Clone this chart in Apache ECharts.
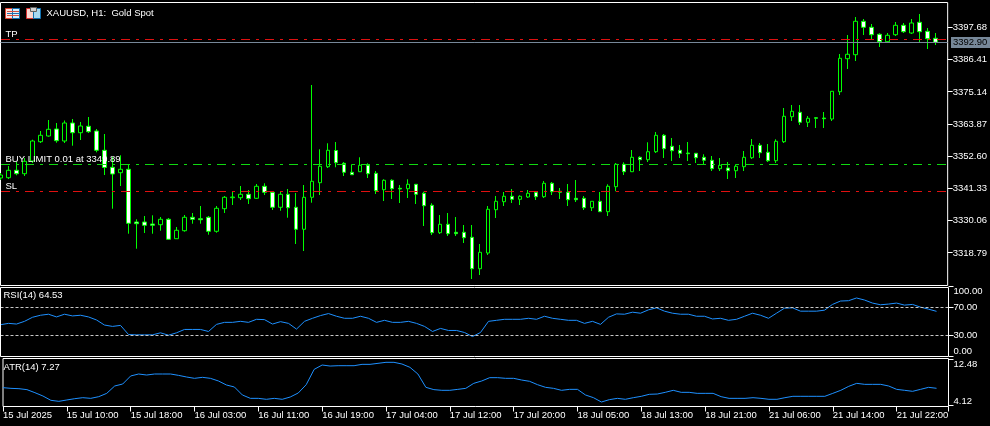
<!DOCTYPE html>
<html><head><meta charset="utf-8">
<style>html,body{margin:0;padding:0;background:#000;overflow:hidden}#c{width:990px;height:426px}</style>
<script src="https://cdn.jsdelivr.net/npm/echarts@6/dist/echarts.min.js"></script>
</head><body><div id="c"></div>
<script>
const opens=[3345.0,3345.1,3347.7,3346.5,3350.95,3357.7,3359.7,3362.15,3357.95,3364.25,
3360.85,3363.1,3361.45,3354.7,3348.75,3346.85,3348.05,3329.6,3329.6,3328.9,
3328.65,3330.55,3323.75,3326.55,3331.25,3330.75,3331.25,3326.35,3334.25,3338.1,
3338.1,3339.3,3337.9,3342.1,3340.0,3334.75,3339.3,3334.75,3327.05,3338.25,
3343.35,3348.95,3354.63,3350.15,3347.0,3347.2,3349.45,3346.65,3340.9,3344.2,
3341.4,3341.25,3342.8,3339.65,3335.45,3325.85,3328.8,3326.0,3326.0,3324.25,
3313.25,3318.75,3333.9,3336.7,3338.6,3337.55,3338.35,3340.0,3338.45,3343.15,
3340.35,3340.0,3337.9,3337.9,3334.6,3336.85,3333.2,3341.95,3349.8,3347.2,
3352.25,3351.4,3354.2,3359.95,3356.1,3354.7,3353.75,3353.65,3352.25,3351.2,
3348.25,3348.5,3347.55,3348.95,3352.1,3356.45,3354.0,3351.05,3357.7,3366.45,
3368.0,3364.5,3366.1,3366.0,3365.65,3375.2,3386.75,3388.15,3399.85,3397.75,
3395.3,3392.7,3395.15,3398.45,3395.75,3399.5,3396.35,3393.9];
const closes=[3346.05,3347.7,3346.5,3350.85,3357.95,3359.95,3362.05,3358.05,3364.25,3360.85,
3363.2,3361.2,3354.7,3348.68,3346.4,3348.05,3329.15,3329.0,3328.45,3328.45,
3330.55,3323.55,3326.7,3331.25,3330.55,3330.4,3326.35,3334.4,3338.25,3338.35,
3339.3,3337.75,3342.1,3340.0,3334.75,3339.3,3334.6,3327.05,3338.25,3343.85,
3349.1,3354.7,3350.35,3347.0,3346.15,3349.45,3346.5,3340.55,3344.2,3341.25,
3341.15,3342.8,3339.3,3335.3,3325.85,3328.8,3325.5,3325.5,3324.1,3313.25,
3319.0,3334.05,3336.85,3338.6,3337.55,3338.6,3339.65,3338.45,3343.15,3340.2,
3340.0,3337.4,3337.4,3334.6,3336.85,3333.2,3342.1,3349.8,3347.2,3352.25,
3351.4,3354.2,3359.95,3355.25,3354.55,3353.65,3353.5,3352.1,3351.2,3348.25,
3349.45,3347.55,3349.1,3352.25,3356.45,3353.85,3351.05,3357.85,3366.6,3368.35,
3364.5,3365.9,3365.9,3365.75,3375.35,3386.9,3388.3,3399.85,3397.75,3395.15,
3392.7,3394.95,3398.45,3396.2,3399.25,3396.2,3393.75,3392.5];
const lows=[3344.3,3344.65,3345.95,3345.7,3350.25,3357.25,3359.45,3357.35,3357.25,3356.3,
3358.3,3360.75,3354.0,3346.05,3334.25,3342.2,3325.5,3320.25,3325.75,3325.5,
3326.55,3323.4,3323.7,3326.2,3329.0,3329.0,3325.15,3325.85,3332.75,3335.55,
3337.3,3335.9,3337.65,3339.05,3333.8,3333.55,3331.1,3321.9,3319.45,3336.35,
3339.05,3348.5,3348.75,3345.7,3346.1,3347.15,3345.0,3339.4,3336.95,3337.65,
3336.25,3338.0,3335.9,3328.2,3325.05,3325.4,3324.7,3324.7,3322.25,3309.65,
3311.05,3318.05,3331.0,3335.2,3336.25,3335.55,3338.0,3337.3,3338.0,3339.05,
3337.65,3335.2,3336.6,3333.8,3333.45,3333.1,3331.7,3340.35,3346.05,3347.1,
3347.45,3350.6,3353.75,3352.0,3350.95,3352.0,3350.95,3350.25,3349.8,3347.45,
3347.45,3344.65,3345.0,3347.45,3351.65,3352.0,3350.6,3350.25,3357.25,3364.95,
3363.55,3362.85,3362.5,3362.5,3364.95,3374.05,3383.15,3385.95,3395.05,3393.3,
3390.85,3392.6,3394.7,3395.75,3395.4,3392.6,3390.15,3391.55];
const highs=[3346.75,3349.2,3350.6,3352.0,3358.4,3361.45,3365.3,3364.25,3365.13,3365.65,
3364.6,3366.35,3362.15,3360.4,3352.45,3352.95,3349.9,3330.55,3331.7,3331.95,
3331.35,3331.0,3327.85,3332.05,3332.75,3335.2,3331.7,3335.2,3338.7,3340.1,
3342.2,3340.8,3342.9,3343.15,3340.35,3340.35,3341.15,3339.75,3342.55,3377.55,
3355.05,3357.15,3357.6,3350.6,3349.8,3352.25,3350.15,3347.45,3344.55,3344.55,
3342.55,3344.55,3342.8,3340.2,3336.15,3332.05,3332.75,3331.35,3328.55,3328.55,
3321.9,3335.2,3338.7,3340.1,3341.15,3338.95,3340.8,3340.35,3343.95,3343.6,
3341.5,3342.9,3344.3,3338.7,3336.85,3340.1,3342.8,3350.25,3350.5,3354.8,
3352.6,3357.5,3361.1,3360.4,3359.0,3356.55,3357.6,3353.65,3353.3,3352.7,
3352.0,3350.6,3349.8,3354.45,3358.65,3357.25,3356.9,3358.55,3369.5,3370.55,
3370.55,3366.7,3366.35,3368.1,3375.45,3388.4,3395.05,3401.35,3400.65,3398.9,
3395.65,3395.75,3399.6,3399.25,3400.65,3402.4,3397.5,3395.75];
const rsi=[45.41,47.34,46.38,50.24,56.04,58.94,60.39,56.52,60.39,57.97,
58.94,56.52,52.17,44.93,43.0,44.44,31.4,30.92,30.92,30.92,
33.82,30.43,33.82,38.65,38.65,38.65,35.75,45.89,48.79,48.79,
50.24,48.79,53.14,52.66,46.38,49.76,47.34,39.13,50.24,54.59,
58.46,61.35,57.49,54.59,54.59,57.49,54.59,48.79,51.69,48.79,
48.79,50.24,47.34,43.0,35.75,40.1,37.2,37.2,34.3,28.5,
34.3,50.24,51.69,53.14,53.14,53.14,54.59,53.14,57.49,54.59,
53.14,51.69,51.69,47.34,50.24,45.89,56.04,60.87,60.39,63.29,
61.84,66.67,69.57,64.74,61.84,60.39,60.39,57.49,57.49,53.62,
54.59,51.69,53.14,57.49,61.84,58.94,54.59,61.84,69.08,69.57,
64.74,64.74,64.74,66.18,74.4,79.23,79.71,83.58,80.68,76.33,
73.91,74.88,76.33,73.43,74.4,70.53,67.63,64.53];
const atr=[7.38,7.26,7.2,7.03,6.49,5.9,5.13,4.95,5.19,5.42,
5.6,5.48,5.78,6.37,7.68,8.03,9.46,9.81,9.63,9.81,
9.81,9.81,9.57,9.28,9.04,9.22,9.04,8.57,7.86,7.5,
6.08,5.48,5.48,5.31,5.48,5.31,5.72,6.43,7.91,10.64,
11.41,11.23,11.29,11.29,11.29,11.53,11.53,11.71,11.89,11.89,
11.59,11.0,9.81,7.44,7.03,6.91,6.91,7.08,7.26,8.15,
8.57,9.16,9.16,9.04,9.04,8.74,8.51,7.91,7.44,7.26,
6.91,7.08,7.08,6.08,5.6,4.83,5.25,5.48,5.31,5.6,
5.84,6.2,6.25,6.55,6.91,6.55,6.55,6.37,6.37,6.37,
5.78,5.48,5.48,5.48,5.6,5.48,5.31,5.31,5.6,5.84,
5.84,5.84,5.84,5.84,6.37,6.91,7.62,8.15,7.97,7.97,
7.97,7.68,7.08,6.91,6.73,7.08,7.44,7.27];
const timeTicks=["15 Jul 2025","15 Jul 10:00","15 Jul 18:00","16 Jul 03:00","16 Jul 11:00","16 Jul 19:00","17 Jul 04:00","17 Jul 12:00","17 Jul 20:00","18 Jul 05:00","18 Jul 13:00","18 Jul 21:00","21 Jul 06:00","21 Jul 14:00","21 Jul 22:00"];
const priceTicks=[3397.68,3386.41,3375.14,3363.87,3352.60,3341.33,3330.06,3318.79];
const rsiTicks=[0,30,70,100];
const atrTicks=[4.12,12.48];
const tpLevel=3393.475,buyLevel=3349.725,slLevel=3340.275,bidLevel=3392.425;
const bidText="3392.90";
const headText="XAUUSD, H1:  Gold Spot",rsiText="RSI(14) 64.53",atrText="ATR(14) 7.27",buyText="BUY LIMIT 0.01 at 3349.89";

const FONT='"Liberation Sans"';
const XMAX=118.5;
const candles=opens.map((o,i)=>[i,o,closes[i],lows[i],highs[i]]);
const pairs=a=>a.map((v,i)=>[i,v]);
const GL=0.5,GW=948;
const grids=[
 {left:GL,width:GW,top:2.5,height:283,show:true,borderColor:'#fff',borderWidth:1,backgroundColor:'#000'},
 {left:GL,width:GW,top:286.5,height:70,show:false},
 {left:GL,width:GW,top:358.5,height:48,show:true,borderColor:'#fff',borderWidth:1,backgroundColor:'#000'}];
const xAxes=[0,1,2].map(i=>({type:'value',gridIndex:i,min:0,max:XMAX,interval:8,
 axisLine:{show:false},splitLine:{show:false},
 axisTick:{show:i===2,length:5,lineStyle:{color:'#fff'}},
 axisLabel:{show:i===2,align:'left',margin:4,color:'#fff',fontFamily:FONT,fontSize:9.5,hideOverlap:false,showMinLabel:true,showMaxLabel:true,
  formatter:v=>timeTicks[v/8]||''}}));
const yBase=(i,min,max,vals,extra)=>({type:'value',gridIndex:i,position:'right',min,max,
 axisLine:{show:false},splitLine:{show:false},axisTick:{show:false},
 axisLabel:Object.assign({show:true,margin:5,color:'#fff',fontFamily:FONT,fontSize:9.5,align:'left',customValues:vals,formatter:v=>v.toFixed(2)},extra||{})});
const yAxes=[
 yBase(0,3307.375,3406.425,priceTicks),
 yBase(1,0,100,rsiTicks,{verticalAlignMinLabel:'bottom',verticalAlignMaxLabel:'top'}),
 yBase(2,4.03,12.57,atrTicks,{verticalAlignMinLabel:'bottom',verticalAlignMaxLabel:'top'})];
const tickSeries=(i,vals)=>({type:'custom',xAxisIndex:i,yAxisIndex:i,clip:false,silent:true,z:5,
 data:vals.map(v=>[XMAX,v]),encode:{x:0,y:1},
 renderItem:(p,api)=>{const c=api.coord([api.value(0),api.value(1)]);const y=Math.floor(c[1])+.5;
  return {type:'line',shape:{x1:c[0],y1:y,x2:c[0]+5,y2:y},style:{stroke:'#fff',lineWidth:1}};}});
const tf={fill:'#fff',fontFamily:FONT,fontSize:9.5};
const lvl=(v,color,name)=>({yAxis:v,name,lineStyle:{color,width:1,type:[9,6,3,6],dashOffset:23.5},
 label:{show:true,formatter:name,position:'insideStartTop',distance:[5,0],color:'#fff',fontFamily:FONT,fontSize:9.5}});
const graphic=[
 {type:'rect',shape:{x:0.5,y:287.5,width:948,height:69},style:{fill:'none',stroke:'#fff',lineWidth:1},z:50},
 {type:'text',x:46.5,y:13.5,style:Object.assign({text:headText,verticalAlign:'middle'},tf),z:50},
 {type:'text',x:3.5,y:295.5,style:Object.assign({text:rsiText,verticalAlign:'middle'},tf),z:50},
 {type:'text',x:3.5,y:367,style:Object.assign({text:atrText,verticalAlign:'middle'},tf),z:50},
 {type:'rect',shape:{x:951,y:37,width:39,height:11},style:{fill:'#778899'},z:50},
 {type:'text',x:953,y:42.8,style:{text:bidText,verticalAlign:'middle',fill:'#000',fontFamily:FONT,fontSize:9.5},z:51},
 {type:'rect',shape:{x:5.5,y:8.5,width:7,height:10},style:{fill:'#fde4e0',stroke:'#e04030',lineWidth:1},z:50},
 {type:'rect',shape:{x:12.5,y:8.5,width:7,height:10},style:{fill:'#ddeefa',stroke:'#1070b0',lineWidth:1},z:50},
 {type:'rect',shape:{x:7,y:11,width:12,height:1},style:{fill:'#d05040'},z:51},
 {type:'rect',shape:{x:7,y:13,width:12,height:1},style:{fill:'#2070b0'},z:51},
 {type:'rect',shape:{x:7,y:15,width:12,height:1},style:{fill:'#d05040'},z:51},
 {type:'rect',shape:{x:26.5,y:8.5,width:7,height:10},style:{fill:'#fbd8d0',stroke:'#d83030',lineWidth:1},z:50},
 {type:'rect',shape:{x:33.5,y:8.5,width:7,height:10},style:{fill:'#a8d8f0',stroke:'#1070b0',lineWidth:1},z:50},
 {type:'rect',shape:{x:30.5,y:7.5,width:6,height:4},style:{fill:'#d0d0d0',stroke:'#606060',lineWidth:1},z:51}
];
const chart=echarts.init(document.getElementById('c'),null,{renderer:'canvas',width:990,height:426});
chart.setOption({
 animation:false,backgroundColor:'#000',grid:grids,xAxis:xAxes,yAxis:yAxes,graphic,
 series:[
  {type:'line',xAxisIndex:0,yAxisIndex:0,data:[],z:1,symbol:'none',
   markLine:{silent:true,symbol:'none',animation:false,data:[
    lvl(tpLevel,'#e01010','TP'),
    lvl(buyLevel,'#10d810',buyText),
    lvl(slLevel,'#e01010','SL')]}},
  {type:'candlestick',xAxisIndex:0,yAxisIndex:0,data:candles,barWidth:4,z:3,
   encode:{x:0,y:[1,2,3,4]},
   itemStyle:{color:'#000',color0:'#fff',borderColor:'#00ff00',borderColor0:'#00ff00',borderWidth:1}},
  {type:'line',xAxisIndex:0,yAxisIndex:0,data:[],z:4,symbol:'none',
   markLine:{silent:true,symbol:'none',animation:false,data:[{yAxis:bidLevel,lineStyle:{color:'#778899',width:1,type:'solid'},label:{show:false}}]}},
  {type:'line',xAxisIndex:1,yAxisIndex:1,data:pairs(rsi),symbol:'none',z:3,lineStyle:{color:'#1e90ff',width:1},
   markLine:{silent:true,symbol:'none',animation:false,label:{show:false},lineStyle:{color:'#c8c8c8',width:1,type:[3,2]},data:[{yAxis:70},{yAxis:30}]}},
  {type:'line',xAxisIndex:2,yAxisIndex:2,data:pairs(atr),symbol:'none',z:3,lineStyle:{color:'#1e90ff',width:1}},
  tickSeries(0,priceTicks),tickSeries(1,rsiTicks),tickSeries(2,atrTicks)
 ]});
</script></body></html>
